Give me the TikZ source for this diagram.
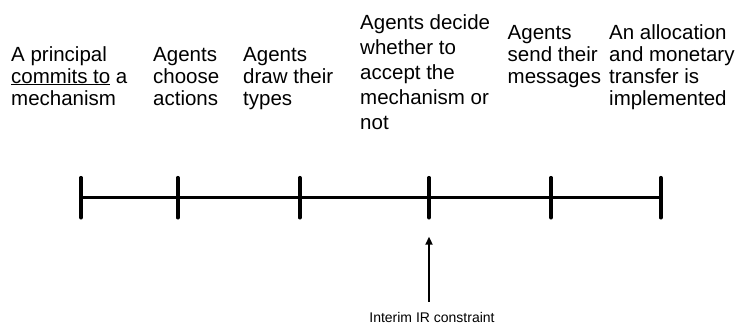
\documentclass[tikz,border=0pt]{standalone}
\usepackage{fontspec}
\setmainfont{Liberation Sans}
\usetikzlibrary{arrows.meta}
\tikzset{
  lbl/.style={anchor=base west, inner sep=0pt, align=left, font=\fontsize{20.5}{22}\selectfont},
  lblwide/.style={lbl, font=\fontsize{20.5}{25}\selectfont},
  axis/.style={line width=3pt},
  tick/.style={line width=3.6pt, line cap=round},
  note/.style={anchor=base, inner sep=0pt, font=\fontsize{14}{16}\selectfont},
  ptr/.style={line width=2pt, -{Triangle[length=8pt,width=7pt]}}
}
\begin{document}
\begin{tikzpicture}[x=1pt,y=-1pt]
\useasboundingbox (0,0) rectangle (741,325);
% texts (anchor = baseline of last line)
\node[lbl] (t1) at (11,105) {A principal\\\underline{commits to} a\\mechanism};
\node[lbl] (t2) at (153,105) {Agents\\choose\\actions};
\node[lbl] (t3) at (243,105) {Agents\\draw their\\types};
\node[lblwide] (t4) at (360,129) {Agents decide\\whether to\\accept the\\mechanism or\\not};
\node[lbl] (t5) at (507.5,83) {Agents\\send their\\messages};
\node[lbl] (t6) at (609,105) {An allocation\\and monetary\\transfer is\\implemented};
% timeline
\coordinate (p1) at (81,197.7);
\coordinate (p2) at (177.7,197.7);
\coordinate (p3) at (299.8,197.7);
\coordinate (p4) at (429,197.7);
\coordinate (p5) at (551,197.7);
\coordinate (p6) at (660.7,197.7);
\draw[axis] (p1) -- (p6);
\foreach \p in {p1,p2,p3,p4,p5,p6}
  \draw[tick] ([yshift=20pt]\p) -- ([yshift=-20pt]\p);
% interim IR
\node[note] (ir) at (432,322) {Interim IR constraint};
\coordinate (tail) at (429,301.7);
\coordinate (tip) at (429,236.7);
\draw[ptr] (tail) -- (tip);
\end{tikzpicture}
\end{document}
